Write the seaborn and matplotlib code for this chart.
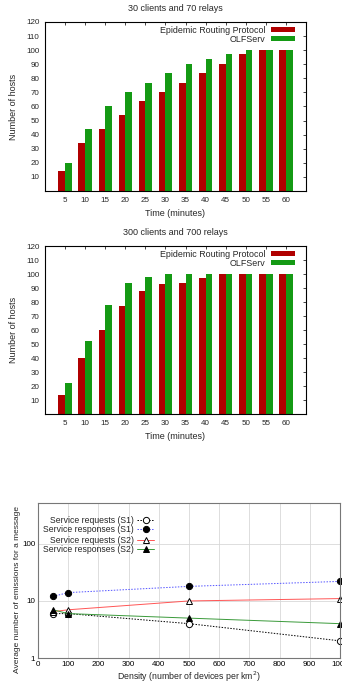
import numpy as np
import pandas as pd
import matplotlib
matplotlib.use("Agg")
import matplotlib.pyplot as plt
import seaborn as sns

# data
times = [5, 10, 15, 20, 25, 30, 35, 40, 45, 50, 55, 60]
epidemic_70 = [14, 34, 44, 54, 64, 70, 77, 84, 90, 97, 100, 100]
olfserv_70 = [20, 44, 60, 70, 77, 84, 90, 94, 97, 100, 100, 100]
epidemic_700 = [14, 40, 60, 77, 88, 93, 94, 97, 100, 100, 100, 100]
olfserv_700 = [22, 52, 78, 94, 98, 100, 100, 100, 100, 100, 100, 100]
protocols = ["Epidemic Routing Protocol", "OLFServ"]

density = [50, 100, 500, 1000]
req_s1 = [6, 6, 4, 2]
resp_s1 = [12, 14, 18, 22]
req_s2 = [6.5, 7, 10, 11]
resp_s2 = [7, 6, 5, 4]

sns.set_style("white")
plt.rcParams["font.family"] = ["Liberation Sans", "DejaVu Sans"]
plt.rcParams["font.size"] = 6.5

RED = "#b00000"
GREEN = "#149a14"

fig = plt.figure(figsize=(3.42, 6.87), dpi=100)


def bar_panel(rect, epi, olf, title):
    ax = fig.add_axes(rect)
    df = pd.DataFrame({
        "time": times * 2,
        "hosts": epi + olf,
        "proto": [protocols[0]] * len(times) + [protocols[1]] * len(times),
    })
    sns.barplot(data=df, x="time", y="hosts", hue="proto", hue_order=protocols,
                palette=[RED, GREEN], width=0.67, saturation=1, ax=ax,
                edgecolor="none")
    ax.set_xlim(-1, len(times))
    ax.set_ylim(0, 120)
    ax.set_yticks(range(10, 121, 10))
    ax.set_title(title, fontsize=6.5, pad=8)
    ax.set_xlabel("Time (minutes)", fontsize=6.5, labelpad=4)
    ax.set_ylabel("Number of hosts", fontsize=6.5, labelpad=6)
    ax.tick_params(direction="in", top=True, right=True, labelsize=5.8,
                   length=2.5, width=0.6, pad=4)
    for s in ax.spines.values():
        s.set_linewidth(0.8)
        s.set_color("black")
    handles, labels = ax.get_legend_handles_labels()
    ax.legend(handles, labels, loc="upper right", frameon=False,
              markerfirst=False, fontsize=6.4, handlelength=2.7,
              handleheight=0.55, handletextpad=0.6, labelspacing=0.0,
              borderaxespad=0.2, borderpad=0.2,
              bbox_to_anchor=(0.97, 1.0))
    return ax


bar_panel([0.1316, 0.722, 0.763, 0.246], epidemic_70, olfserv_70,
          "30 clients and 70 relays")
bar_panel([0.1316, 0.397, 0.763, 0.2445], epidemic_700, olfserv_700,
          "300 clients and 700 relays")

# line panel (its right edge sits at the figure border, as in the reference)
ax3 = fig.add_axes([0.111, 0.0422, 0.883, 0.2256])
series = [
    ("Service requests (S1)", req_s1, "black", (0, (1.5, 1.5)), "o", "white"),
    ("Service responses (S1)", resp_s1, "#5555ff", (0, (1.5, 1.5)), "o", "black"),
    ("Service requests (S2)", req_s2, "#ff5555", "-", "^", "white"),
    ("Service responses (S2)", resp_s2, "#3a9a3a", "-", "^", "black"),
]
for label, vals, col, ls, mk, mfc in series:
    sns.lineplot(x=density, y=vals, ax=ax3, color=col, linestyle=ls,
                 linewidth=0.7, marker=mk, markersize=4.5,
                 markerfacecolor=mfc, markeredgecolor="black",
                 markeredgewidth=0.7, label=label, clip_on=False)
ax3.set_yscale("log")
ax3.set_ylim(1, 520)
ax3.set_xlim(0, 1000)
ax3.set_xticks(range(0, 1001, 100))
ax3.set_yticks([1, 10, 100])
ax3.set_yticklabels(["1", "10", "100"])
ax3.yaxis.set_minor_locator(matplotlib.ticker.NullLocator())
ax3.grid(True, color="#d8d8d8", linewidth=0.6)
ax3.tick_params(direction="in", labelsize=5.8, length=2, width=0.5, pad=2,
                colors="#333333", labelcolor="black")
for s in ax3.spines.values():
    s.set_linewidth(0.8)
    s.set_color("#777777")
ax3.set_xlabel("Density (number of devices per km$^2$)", fontsize=6.3,
               labelpad=1)
ax3.set_ylabel("Average number of emissions for a message", fontsize=6.0)
ax3.yaxis.set_label_coords(-0.057, 0.44)

handles, labels = ax3.get_legend_handles_labels()
ax3.get_legend().remove()
leg_kw = dict(frameon=False, markerfirst=False, fontsize=6.2,
              handlelength=2.0, handletextpad=0.35, labelspacing=0.05,
              borderpad=0.0, borderaxespad=0.0)
leg1 = ax3.legend(handles[:2], labels[:2], loc="upper right",
                  bbox_to_anchor=(0.385, 0.918), **leg_kw)
ax3.add_artist(leg1)
ax3.legend(handles[2:], labels[2:], loc="upper right",
           bbox_to_anchor=(0.385, 0.79), **leg_kw)

fig.savefig("out.png", dpi=100)
